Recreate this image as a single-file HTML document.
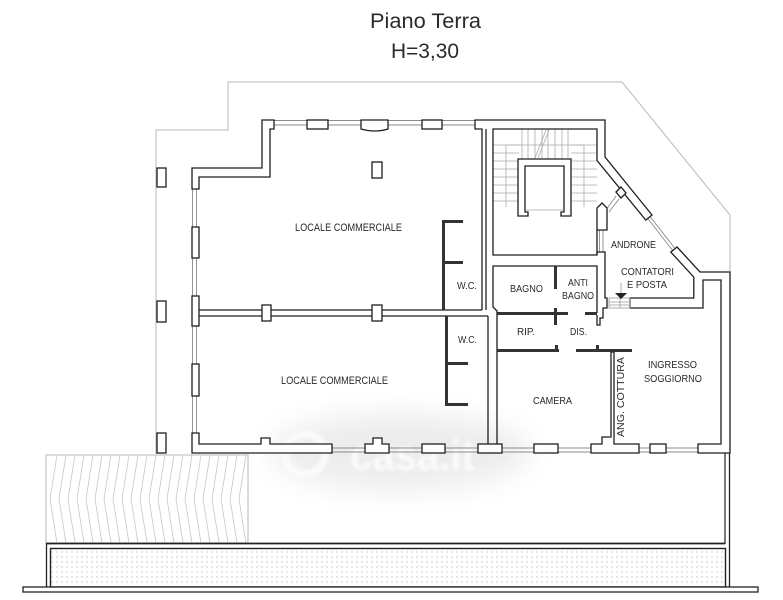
<!DOCTYPE html>
<html><head><meta charset="utf-8"><style>
html,body{margin:0;padding:0;background:#fff;width:783px;height:600px;overflow:hidden}
svg{display:block}
text{font-family:"Liberation Sans",Arial,sans-serif;fill:#2a2a2a}
</style></head><body>
<svg width="783" height="600" viewBox="0 0 783 600" xmlns="http://www.w3.org/2000/svg">
<defs>
<pattern id="dots" width="5" height="5" patternUnits="userSpaceOnUse"><circle cx="2" cy="2" r="0.7" fill="#c2c2c2"/></pattern>
<clipPath id="hc"><rect x="46" y="455" width="202" height="88"/></clipPath>
<filter id="bl" x="-30%" y="-60%" width="160%" height="220%"><feGaussianBlur stdDeviation="14"/></filter>
<filter id="bl2"><feGaussianBlur stdDeviation="1.5"/></filter>
</defs>
<rect width="783" height="600" fill="#fff"/>

<!-- watermark haze (behind drawing) -->
<ellipse cx="400" cy="452" rx="130" ry="38" fill="#ececec" filter="url(#bl)"/>
<g filter="url(#bl2)">
<circle cx="305" cy="454" r="20" fill="none" stroke="#fbfbfb" stroke-width="7"/>
<text x="350" y="470" font-size="44" font-weight="bold" textLength="125" lengthAdjust="spacingAndGlyphs" style="fill:#fbfbfb">casa.it</text>
</g>

<text x="370" y="28" font-size="21" textLength="111" lengthAdjust="spacingAndGlyphs">Piano Terra</text>
<text x="391" y="58" font-size="21" textLength="68" lengthAdjust="spacingAndGlyphs">H=3,30</text>

<!-- site boundary -->
<g fill="none" stroke="#b8b8b8" stroke-width="1">
<polyline points="156,454 156,130 228,130 228,82 622,82 730,215 730,272"/>
<rect x="46" y="455" width="202" height="88"/>
</g>
<g clip-path="url(#hc)" fill="none" stroke="#c6c6c6" stroke-width="0.8">
<polyline points="57,455 50,499 57,543"/><polyline points="66,455 59,499 66,543"/>
<polyline points="75,455 68,499 75,543"/><polyline points="84,455 77,499 84,543"/>
<polyline points="93,455 86,499 93,543"/><polyline points="102,455 95,499 102,543"/>
<polyline points="111,455 104,499 111,543"/><polyline points="120,455 113,499 120,543"/>
<polyline points="129,455 122,499 129,543"/><polyline points="138,455 131,499 138,543"/>
<polyline points="147,455 140,499 147,543"/><polyline points="156,455 149,499 156,543"/>
<polyline points="165,455 158,499 165,543"/><polyline points="174,455 167,499 174,543"/>
<polyline points="183,455 176,499 183,543"/><polyline points="192,455 185,499 192,543"/>
<polyline points="201,455 194,499 201,543"/><polyline points="210,455 203,499 210,543"/>
<polyline points="219,455 212,499 219,543"/><polyline points="228,455 221,499 228,543"/>
<polyline points="237,455 230,499 237,543"/><polyline points="246,455 239,499 246,543"/>
</g>

<!-- glazing lines -->
<g stroke="#8a8a8a" stroke-width="0.9" fill="none">
<line x1="192.5" y1="168" x2="192.5" y2="453"/>
<line x1="196.5" y1="168" x2="196.5" y2="453"/>
<line x1="262" y1="120.5" x2="475" y2="120.5"/>
<line x1="262" y1="125" x2="475" y2="125"/>
<line x1="192" y1="448" x2="722" y2="448"/>
<line x1="192" y1="452" x2="722" y2="452"/>
<line x1="650.1" y1="216.6" x2="675.1" y2="248.6"/>
<line x1="647.7" y1="218.5" x2="672.7" y2="250.5"/>
<line x1="606" y1="210" x2="616" y2="196"/>
<line x1="609" y1="212" x2="619" y2="199"/>
<line x1="599.5" y1="230" x2="599.5" y2="252"/>
<line x1="603" y1="230" x2="603" y2="252"/>
</g>

<!-- stairs -->
<g stroke="#aaa" stroke-width="0.8" fill="none">
<line x1="522" y1="129" x2="522" y2="159"/><line x1="528" y1="129" x2="528" y2="159"/>
<line x1="535" y1="129" x2="535" y2="159"/><line x1="542" y1="129" x2="542" y2="159"/>
<line x1="548" y1="129" x2="548" y2="159"/><line x1="555" y1="129" x2="555" y2="159"/>
<line x1="562" y1="129" x2="562" y2="159"/><line x1="568" y1="129" x2="568" y2="159"/>
<line x1="493" y1="145" x2="519" y2="145"/><line x1="493" y1="153" x2="519" y2="153"/>
<line x1="493" y1="161" x2="519" y2="161"/><line x1="493" y1="169" x2="519" y2="169"/>
<line x1="493" y1="177" x2="519" y2="177"/><line x1="493" y1="185" x2="519" y2="185"/>
<line x1="493" y1="193" x2="519" y2="193"/><line x1="493" y1="201" x2="519" y2="201"/>
<line x1="571" y1="145" x2="597" y2="145"/><line x1="571" y1="153" x2="597" y2="153"/>
<line x1="571" y1="161" x2="597" y2="161"/><line x1="571" y1="169" x2="597" y2="169"/>
<line x1="571" y1="177" x2="597" y2="177"/><line x1="571" y1="185" x2="597" y2="185"/>
<line x1="571" y1="193" x2="597" y2="193"/><line x1="571" y1="201" x2="597" y2="201"/>
<polyline points="506,207 506,145 584,145 584,207"/>
<line x1="526" y1="210" x2="563" y2="210"/>
<line x1="535" y1="158" x2="546" y2="130"/><line x1="538" y1="158" x2="549" y2="130"/>
</g>

<!-- walls -->
<g stroke="#1e1e1e" stroke-width="1.3" fill="#fff">
<rect x="157" y="168" width="9" height="19"/>
<rect x="157" y="301" width="9" height="21"/>
<rect x="157" y="433" width="9" height="20"/>

<polygon points="192,189 192,168 262,168 262,120 274,120 274,129 270,129 270,177 199,177 199,189"/>
<rect x="307" y="120" width="21" height="9"/>
<path d="M361,120 H388 V129 Q375,133 361,129 Z"/>
<rect x="422" y="120" width="20" height="9"/>
<rect x="372" y="162" width="10" height="16"/>

<rect x="192" y="227" width="7" height="31"/>
<rect x="192" y="364" width="7" height="32"/>
<polygon points="192,433 199,433 199,444 261,444 261,438 270,438 270,444 332,444 332,453 192,453"/>
<polygon points="365,453 365,444 373,444 373,438 382,438 382,444 389,444 389,453"/>
<rect x="422" y="444" width="23" height="9"/>
<rect x="478" y="444" width="24" height="9"/>
<rect x="534" y="444" width="24" height="9"/>
<polygon points="591,453 591,444 602,444 602,437 611,437 611,352 614,352 614,444 639,444 639,453"/>
<rect x="650" y="444" width="16" height="9"/>

<!-- middle wall between shops -->
<line x1="199" y1="310" x2="482" y2="310" fill="none"/>
<line x1="199" y1="316" x2="488" y2="316" fill="none"/>
<rect x="192" y="296" width="7" height="30"/>
<rect x="262" y="305" width="9" height="16"/>
<rect x="372" y="305" width="10" height="16"/>

<!-- stair block -->
<polyline fill="none" points="482,310 482,129 475,129 475,120 605,120 605,157 652,215 645.8,220.1 597,160.5 597,129 493,129 493,255 597,255 597,230"/>
<line x1="486" y1="129" x2="486" y2="310"/>
<polygon points="518,216 518,159 571,159 571,216 561,216 561,212 564,212 564,166 525,166 525,212 528,212 528,216"/>
<polygon points="597,230 597,208 602,203 607,208 607,230"/>
<polygon points="616,192 621,187 626,193 621,198"/>
<polyline fill="none" points="597,255 597,252 605,252 605,298 607,298 607,308 603,308 603,318 600,318 600,325 597,325 597,315"/>

<!-- right wall -->
<polygon points="677,247 700,272 730,272 730,453 698,453 698,444 721,444 721,280 703,280 703,308 630,308 630,298 693.8,298 693.8,277.1 670.8,252.1"/>

<!-- bagno / rip / camera -->
<polyline fill="none" points="597,313 597,266 493,266 493,307 497,311 497,444"/>
<line x1="488" y1="316" x2="488" y2="444"/>
</g>

<g fill="#333">
<rect x="554" y="266" width="3" height="23"/>
<rect x="497" y="312" width="71" height="3"/>
<rect x="554" y="308" width="3" height="17"/>
<rect x="585" y="312" width="12" height="3"/>
<rect x="497" y="349" width="62" height="3"/>
<rect x="555" y="345" width="3" height="5"/>
<rect x="576" y="349" width="56" height="3"/>
<rect x="596" y="345" width="3" height="5"/>
<rect x="442" y="220" width="3" height="90"/>
<rect x="442" y="220" width="21" height="3"/>
<rect x="442" y="261" width="21" height="3"/>
<rect x="445" y="316" width="3" height="90"/>
<rect x="445" y="362" width="23" height="3"/>
<rect x="445" y="403" width="23" height="3"/>
</g>

<!-- contatori door + arrow -->
<g stroke="#999" stroke-width="0.8" fill="none">
<rect x="609" y="298" width="21" height="10"/>
<line x1="609" y1="302" x2="630" y2="302"/>
<line x1="609" y1="305" x2="630" y2="305"/>
<line x1="620" y1="298" x2="620" y2="308"/>
<line x1="621" y1="283" x2="621" y2="293"/>
</g>
<polygon points="615,293 627,293 621,299" fill="#222"/>

<!-- bottom strip -->
<g stroke="#222" fill="none">
<line x1="725" y1="453" x2="725" y2="544" stroke-width="1.2"/>
<line x1="46" y1="543.5" x2="725" y2="543.5" stroke-width="1.8"/>
<line x1="46.5" y1="543" x2="46.5" y2="587" stroke-width="1.3"/>
<rect x="50.5" y="548.5" width="675" height="38.5" fill="url(#dots)" stroke-width="1.4"/>
<line x1="729.5" y1="453" x2="729.5" y2="587" stroke-width="1.3"/>
<rect x="23" y="587" width="735" height="5" fill="#fff" stroke-width="1.3"/>
</g>

<!-- labels -->
<g font-size="11">
<text x="295" y="231" textLength="107" lengthAdjust="spacingAndGlyphs">LOCALE COMMERCIALE</text>
<text x="281" y="384" textLength="107" lengthAdjust="spacingAndGlyphs">LOCALE COMMERCIALE</text>
</g>
<g font-size="10">
<text x="457" y="289" textLength="20" lengthAdjust="spacingAndGlyphs">W.C.</text>
<text x="458" y="343" textLength="19" lengthAdjust="spacingAndGlyphs">W.C.</text>
<text x="510" y="292" textLength="33" lengthAdjust="spacingAndGlyphs">BAGNO</text>
<text x="568" y="286" textLength="20" lengthAdjust="spacingAndGlyphs">ANTI</text>
<text x="562" y="299" textLength="32" lengthAdjust="spacingAndGlyphs">BAGNO</text>
<text x="517" y="335" textLength="18" lengthAdjust="spacingAndGlyphs">RIP.</text>
<text x="570" y="335" textLength="17" lengthAdjust="spacingAndGlyphs">DIS.</text>
<text x="611" y="248" textLength="45" lengthAdjust="spacingAndGlyphs">ANDRONE</text>
<text x="621" y="275" textLength="53" lengthAdjust="spacingAndGlyphs">CONTATORI</text>
<text x="627" y="288" textLength="40" lengthAdjust="spacingAndGlyphs">E POSTA</text>
<text x="533" y="404" textLength="39" lengthAdjust="spacingAndGlyphs">CAMERA</text>
<text x="648" y="368" textLength="49" lengthAdjust="spacingAndGlyphs">INGRESSO</text>
<text x="644" y="382" textLength="58" lengthAdjust="spacingAndGlyphs">SOGGIORNO</text>
<text transform="translate(624,437) rotate(-90)" x="0" y="0" textLength="80" lengthAdjust="spacingAndGlyphs">ANG. COTTURA</text>
</g>
</svg>
</body></html>
